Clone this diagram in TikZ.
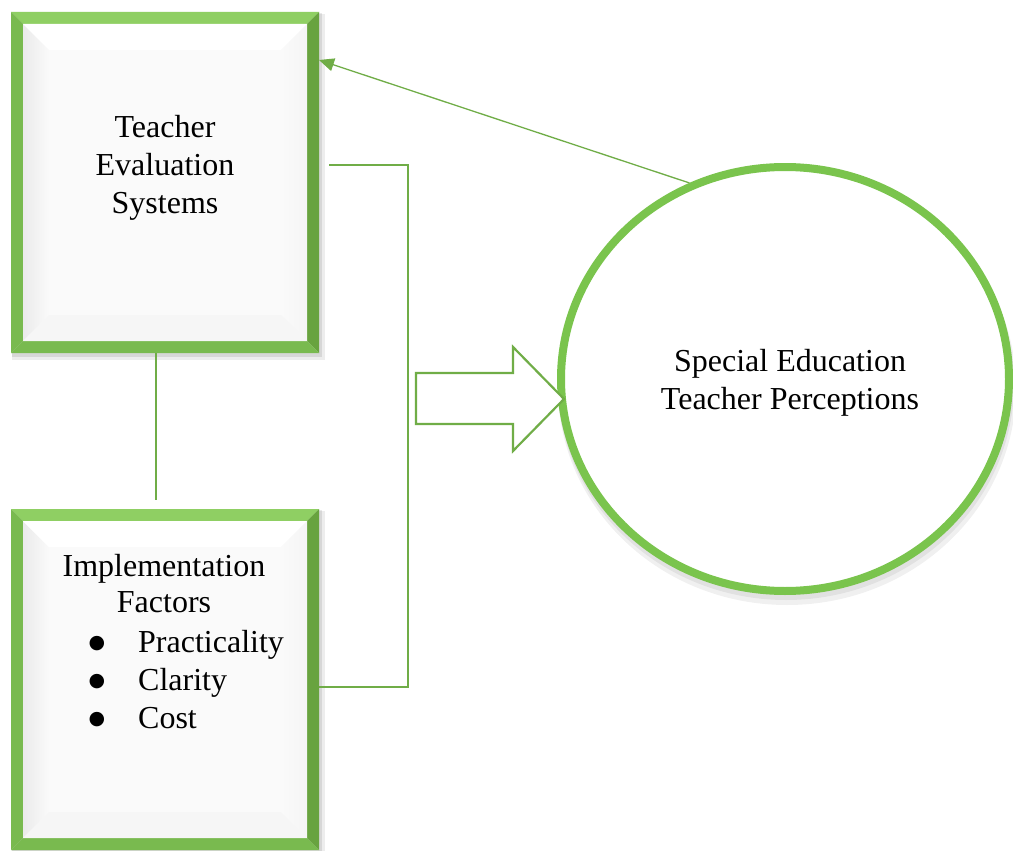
\documentclass[tikz,border=0pt]{standalone}
\usepackage{fontspec}
\setmainfont{Liberation Serif}
\newfontfamily\symfont{DejaVu Sans}
\usetikzlibrary{arrows.meta,calc,shapes.geometric}
\definecolor{grn}{HTML}{70AD47}
\definecolor{grnlt}{HTML}{8FCF63}
\definecolor{grnmd}{HTML}{79BA4F}
\definecolor{grndk}{HTML}{68A33F}
\definecolor{ring}{HTML}{7AC44D}
\pgfdeclareradialshading{discsh}{\pgfpoint{0bp}{0bp}}{color(0bp)=(white); color(34bp)=(white); color(45bp)=(black!6); color(50bp)=(black!3)}
% bevelled box: x1,y1,x2,y2 (pixel coordinates, y downward)
\newcommand\bevbox[4]{%
  \fill[black,opacity=0.07] (#1+1,#2+2) rectangle (#3+6,#4+7);
  \fill[black,opacity=0.09] (#1+1,#2+1) rectangle (#3+3,#4+4);
  \fill[grnlt] (#1,#2) -- (#3,#2) -- (#3-12,#2+12) -- (#1+12,#2+12) -- cycle;
  \fill[grnmd] (#1,#2) -- (#1+12,#2+12) -- (#1+12,#4-12) -- (#1,#4) -- cycle;
  \fill[grndk] (#3,#2) -- (#3,#4) -- (#3-12,#4-12) -- (#3-12,#2+12) -- cycle;
  \fill[grnmd] (#1,#4) -- (#1+12,#4-12) -- (#3-12,#4-12) -- (#3,#4) -- cycle;
  \fill[black!2] (#1+12,#2+12) rectangle (#3-12,#4-12);
  \shade[left color=black!8, right color=black!2] (#1+12,#2+12) -- (#1+38,#2+38) -- (#1+38,#4-38) -- (#1+12,#4-12) -- cycle;
  \fill[white] (#1+12,#2+12) -- (#3-12,#2+12) -- (#3-38,#2+38) -- (#1+38,#2+38) -- cycle;
  \shade[left color=black!2, right color=black!4] (#3-12,#2+12) -- (#3-12,#4-12) -- (#3-38,#4-38) -- (#3-38,#2+38) -- cycle;
  \fill[black!3.5] (#1+12,#4-12) -- (#3-12,#4-12) -- (#3-38,#4-38) -- (#1+38,#4-38) -- cycle;
}
\tikzset{
  txt/.style={font=\fontsize{32}{38}\selectfont, inner sep=0pt, text=black},
  bul/.style={font=\symfont\fontsize{19}{19}\selectfont, inner sep=0pt, text=black, anchor=base},
  link/.style={draw=grn, line width=1.3pt},
  boxnode/.style={rectangle, inner sep=0pt, outer sep=0pt},
}
\begin{document}
\begin{tikzpicture}[x=1pt,y=-1pt]
\useasboundingbox (0,0) rectangle (1013,851);
\fill[white] (0,0) rectangle (1013,851);

% boxes
\bevbox{11}{12}{319}{353}
\node[boxnode, minimum width=308pt, minimum height=341pt] (tes) at (165,182.5) {};
\bevbox{11}{509}{319}{850}
\node[boxnode, minimum width=308pt, minimum height=341pt] (ief) at (165,679.5) {};

% circle
\fill[black,opacity=0.06] (787,388) ellipse [x radius=229, y radius=217];
\fill[black,opacity=0.06] (786,384) ellipse [x radius=228, y radius=216];
\node[ellipse, minimum width=448pt, minimum height=424pt, inner sep=0pt,
      draw=ring, line width=8pt, shading=discsh] (sep) at (785,379) {};

% texts
\node[txt, align=center] (tesT) at (165,168) {Teacher\\Evaluation\\Systems};
\node[txt, align=center] (sepT) at (790,383) {Special Education\\Teacher Perceptions};
\node[txt, anchor=base] (ifT1) at (164,576) {Implementation};
\node[txt, anchor=base] (ifT2) at (164,612) {Factors};
\node[bul] (b1) at (97,648) {●};
\node[txt, anchor=base west] (l1) at (138,652) {Practicality};
\node[bul] (b2) at (97,686) {●};
\node[txt, anchor=base west] (l2) at (138,690) {Clarity};
\node[bul] (b3) at (97,724) {●};
\node[txt, anchor=base west] (l3) at (138,728) {Cost};

% connectors
\draw[link] ($(tes.south)+(-9,0)$) -- ($(ief.north)+(-9,-9)$);
\coordinate (brA) at ($(tes.north east)+(10,153)$);
\draw[link] (brA) -- ++(79,0) |- (ief.east |- 0,687);
\draw[link, -{Triangle[length=15pt,width=13pt]}] (sep.116) -- ($(tes.north east)+(0,48)$);

% block arrow
\draw[draw=grn, line width=2.2pt, fill=white, line join=miter]
  (416,373) -- (513,373) -- (513,347) -- (564,399) -- (513,451) -- (513,424) -- (416,424) -- cycle;
\end{tikzpicture}
\end{document}
